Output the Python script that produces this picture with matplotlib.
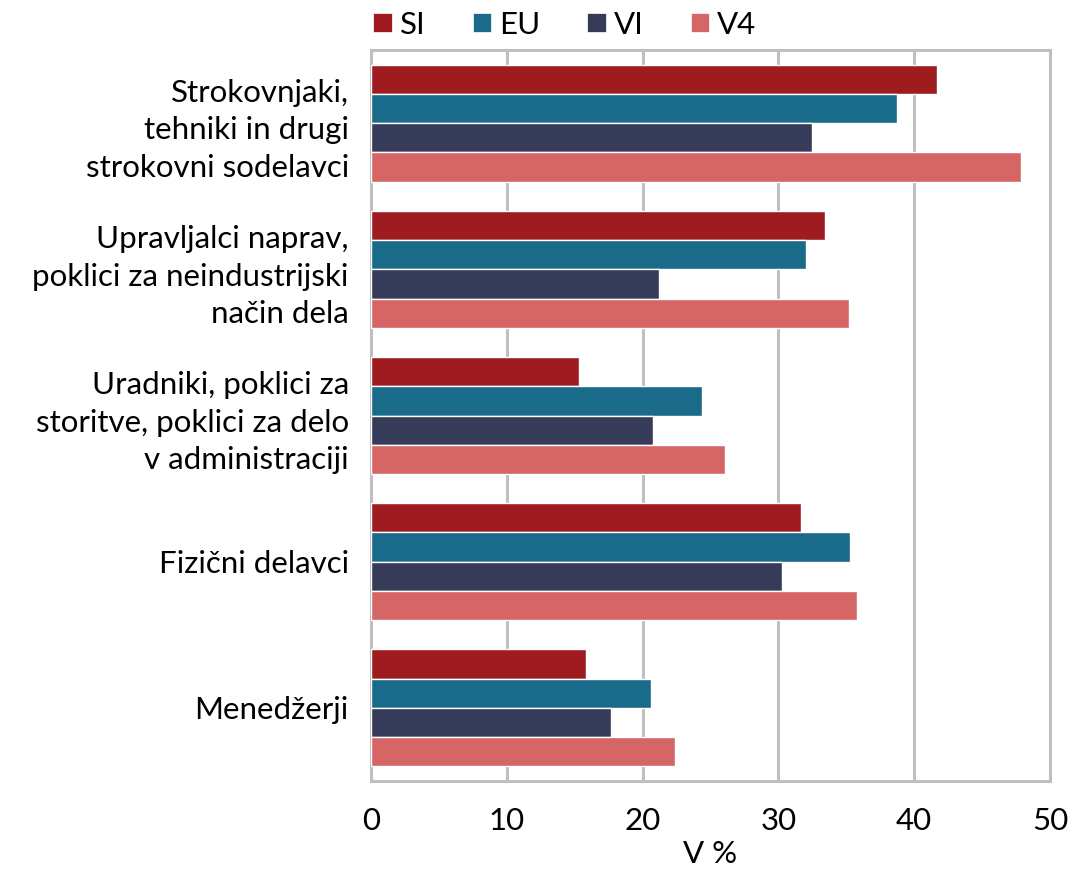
import numpy as np
import matplotlib.pyplot as plt
from matplotlib.patches import Patch

categories = ["Strokovnjaki,\ntehniki in drugi\nstrokovni sodelavci",
              "Upravljalci naprav,\npoklici za neindustrijski\nnačin dela",
              "Uradniki, poklici za\nstoritve, poklici za delo\nv administraciji",
              "Fizični delavci",
              "Menedžerji"]
series = ["SI", "EU", "VI", "V4"]
si = [41.7, 33.4, 15.3, 31.7, 15.8]
eu = [38.7, 32.0, 24.4, 35.3, 20.6]
vi = [32.5, 21.2, 20.8, 30.3, 17.7]
v4 = [47.9, 35.2, 26.1, 35.8, 22.4]
colors = ["#9E1C20", "#1A6B89", "#353B58", "#D66665"]

plt.rcParams['font.family'] = ['Lato', 'DejaVu Sans']

fig = plt.figure(figsize=(10.74, 8.69), dpi=100)
ax = fig.add_axes([371/1074, 1-781/869, 679/1074, 731/869])

y = np.arange(len(categories))
h = 0.2
for i, vals in enumerate([si, eu, vi, v4]):
    ax.barh(y + (i - 1.5) * h, vals, height=h, color=colors[i],
            edgecolor="white", linewidth=1.0, zorder=3)

ax.set_xlim(0, 50)
ax.set_ylim(4.5, -0.5)
ax.set_xticks([0, 10, 20, 30, 40, 50])
ax.set_yticks(y)
ax.set_yticklabels(categories, fontsize=22.5, linespacing=1.42)
ax.tick_params(axis='x', labelsize=22.5, length=0, pad=19)
ax.tick_params(axis='y', length=0, pad=16)
ax.grid(axis='x', color="#BFBFBF", linewidth=2.2, zorder=0)
for s in ax.spines.values():
    s.set_color("#BFBFBF")
    s.set_linewidth(2.2)
ax.set_xlabel("V %", fontsize=22.5, labelpad=3)

handles = [Patch(facecolor=c, edgecolor="white", linewidth=0.5) for c in colors]
ax.legend(handles, series, ncol=4, frameon=False, fontsize=22.5,
          loc="lower left", bbox_to_anchor=(-0.024, 0.99),
          handlelength=0.6, handleheight=0.6, handletextpad=0.25,
          columnspacing=1.5, borderaxespad=0.2)

fig.savefig("out.png", dpi=100)
